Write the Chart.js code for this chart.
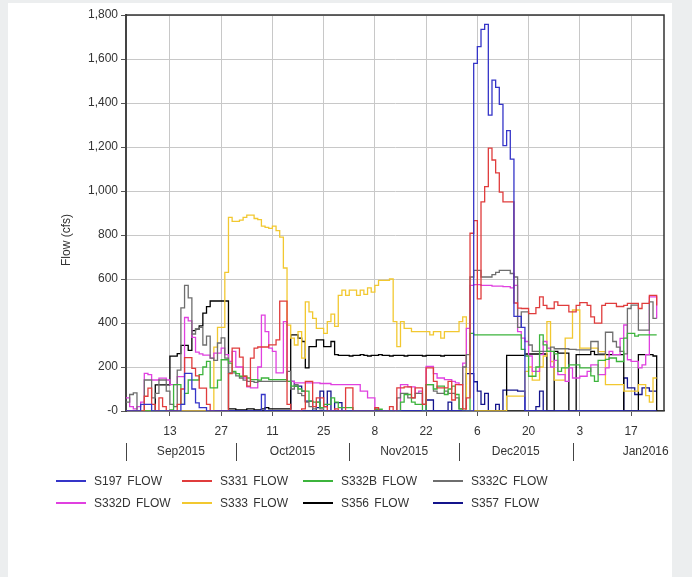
<!DOCTYPE html>
<html>
<head>
<meta charset="utf-8">
<script src="https://cdn.jsdelivr.net/npm/chart.js@4.4.0/dist/chart.umd.min.js"></script>
<style>
    html, body { margin: 0; padding: 0; }
    body { width: 692px; height: 577px; background: #eceeef; position: relative; overflow: hidden;
           font-family: "Liberation Sans", Arial, sans-serif; }
    #panel { position: absolute; left: 8px; top: 3px; width: 664px; height: 574px; background: #ffffff; }
    #wrap { position: absolute; left: 0; top: 0; width: 692px; height: 577px; }
    #legend { position: absolute; left: 56px; top: 470px; display: grid;
              grid-template-columns: 126px 121px 130px 130px; grid-auto-rows: 22px; }
    .item { display: flex; align-items: center; font-size: 12px; color: #333; white-space: nowrap; word-spacing: 2px; }
    .swatch { display: inline-block; width: 30px; height: 2px; margin-right: 8px; }
</style>
</head>
<body>
<div id="panel"></div>
<div id="wrap"><canvas id="flow-chart"></canvas></div>
<div id="legend"></div>
<script>
// Daily values, day 0 = 1 Sep 2015
const s197 = [0,0,0,0,30,30,30,0,0,0,
    0,0,0,0,0,30,171,171,100,37,
    15,15,0,0,0,0,0,0,0,0,
    0,0,0,0,0,0,0,75,0,0,
    0,0,0,0,0,0,0,0,0,0,
    0,0,0,0,0,0,0,0,0,0,
    0,0,0,0,0,0,0,0,0,0,
    0,0,0,0,0,0,0,0,0,0,
    0,0,0,0,0,0,0,0,0,0,
    0,0,0,0,0,1580,1656,1735,1757,1345,
    1504,1471,1394,1206,1274,1145,430,430,380,0,
    0,0,0,0,0,0,0,0,0,0,
    0,0,0,0,0,0,0,0,0,0,
    0,0,0,0,0,0,0,0,0,0,
    0,0,0,0,0,0];
const s331 = [0,0,0,0,0,67,104,30,0,60,
    20,0,0,0,30,100,243,243,194,160,
    104,104,30,0,0,0,0,0,170,286,
    286,245,158,113,240,286,291,291,291,301,
    301,323,499,499,30,0,0,0,10,135,
    135,20,60,60,20,0,0,10,0,0,
    105,105,0,0,0,0,0,0,15,0,
    0,0,20,0,105,105,110,110,60,105,
    105,30,196,196,135,105,105,105,135,50,
    120,120,10,60,808,865,510,951,1020,1195,
    1141,1082,995,951,951,951,491,468,466,466,
    443,443,470,519,480,466,466,496,480,480,
    480,451,451,480,493,493,480,428,399,399,
    480,489,489,489,475,475,480,489,489,489,
    466,489,489,526,526,480];
const s332b = [0,0,0,0,0,0,0,0,0,0,
    0,0,5,120,120,30,80,141,141,141,
    165,200,226,105,105,140,233,233,218,180,
    170,158,158,150,143,143,140,150,150,143,
    143,143,143,143,135,113,113,100,90,90,
    45,40,40,15,30,30,60,40,15,15,
    15,15,0,0,0,0,0,0,8,8,
    0,0,0,0,0,40,75,75,40,30,
    30,0,120,120,100,113,113,75,100,113,
    75,10,0,0,353,346,346,346,346,346,
    346,346,346,346,346,346,346,346,280,250,
    158,158,200,346,301,271,271,260,180,196,
    196,210,210,210,196,196,196,160,135,230,
    230,235,241,241,225,225,331,353,353,340,
    346,346,346,346,346,346];
const s332c = [40,75,82,0,0,141,141,60,80,141,
    141,90,30,20,186,469,571,514,350,372,
    380,300,340,240,230,309,332,240,173,173,
    160,150,140,135,135,130,135,135,135,135,
    135,135,135,135,180,100,120,80,70,40,
    20,10,40,10,0,0,0,0,0,0,
    0,0,0,0,0,0,0,0,0,0,
    0,0,0,0,60,80,80,60,60,80,
    80,30,120,120,90,80,80,90,80,80,
    60,10,200,256,609,639,639,609,609,609,
    620,630,639,639,639,625,609,380,451,451,
    300,271,271,271,271,271,290,283,283,283,
    283,280,280,278,278,278,278,316,316,260,
    260,358,358,316,290,271,260,466,481,481,
    368,368,368,496,421,421];
const s332d = [60,20,10,20,40,171,165,141,141,149,
    149,141,120,120,156,156,425,410,335,268,
    260,254,254,240,263,263,286,256,226,271,
    200,200,150,110,105,105,200,436,361,286,
    271,173,173,406,135,135,128,128,128,128,
    128,128,128,125,125,125,120,120,120,120,
    120,120,120,120,90,90,60,60,10,0,
    0,0,0,0,0,120,120,110,110,80,
    90,30,203,203,170,150,150,143,143,135,
    128,120,218,376,571,574,574,571,571,571,
    568,568,568,565,565,560,571,361,331,316,
    250,180,180,256,316,286,200,230,165,165,
    135,196,150,150,158,158,180,210,210,165,
    165,196,271,256,256,330,391,233,226,226,
    196,210,256,519,519,420];
const s333 = [0,0,0,0,0,0,0,0,0,0,
    0,0,0,0,0,0,0,0,0,0,
    0,0,0,0,290,380,380,630,880,862,
    862,868,880,890,890,875,870,840,835,830,
    840,820,790,650,390,331,300,361,240,496,
    451,421,376,376,353,406,440,385,526,549,
    526,549,549,526,549,530,560,540,571,594,
    594,594,600,406,293,406,376,376,361,361,
    361,361,361,346,361,361,331,361,361,361,
    361,406,428,0,0,0,0,0,0,0,
    0,0,0,0,68,68,68,68,68,180,
    200,140,140,200,250,406,225,140,140,140,
    331,331,459,459,286,286,286,286,286,270,
    270,120,120,120,120,120,90,90,90,90,
    120,120,70,40,150,150];
const s356 = [0,0,0,0,0,0,0,0,119,119,
    119,119,249,249,261,298,298,276,365,372,
    387,445,474,500,500,500,500,500,10,10,
    5,5,5,10,10,5,5,10,15,10,
    10,10,10,10,10,346,346,331,316,196,
    293,293,323,323,293,293,316,256,253,253,
    253,250,253,253,256,253,250,253,253,256,
    253,253,250,253,253,253,250,253,253,253,
    253,250,253,253,253,253,250,253,253,253,
    253,253,253,0,0,0,0,0,0,0,
    0,0,0,0,253,253,253,253,253,259,
    259,259,259,259,259,0,0,271,263,263,
    263,0,0,256,256,256,256,271,256,256,
    256,256,256,256,256,256,0,0,0,0,
    256,256,256,256,250,0];
const s357 = [0,0,0,0,0,0,0,0,0,0,
    0,0,0,0,0,0,0,0,0,0,
    0,0,0,0,0,0,0,0,0,0,
    0,0,0,0,0,0,0,0,0,0,
    0,0,0,0,0,135,113,113,90,45,
    45,0,15,90,20,90,0,38,38,0,
    0,0,0,0,0,0,0,0,0,0,
    0,0,0,0,0,0,0,0,0,0,
    0,0,50,50,0,0,0,0,40,0,
    0,0,0,170,170,133,90,30,80,0,
    0,30,0,95,95,95,95,90,90,0,
    0,0,20,90,0,0,0,0,0,0,
    0,0,0,0,0,0,0,0,0,0,
    0,0,0,0,0,0,150,105,105,75,
    75,105,105,90,90,90];

const seriesNames = ['S197 FLOW', 'S331 FLOW', 'S332B FLOW', 'S332C FLOW',
                     'S332D FLOW', 'S333 FLOW', 'S356 FLOW', 'S357 FLOW'];
const seriesColors = ['#3535c8', '#e03c3c', '#3cb43c', '#6e6e6e',
                      '#e040e0', '#f2c830', '#000000', '#14148c'];
const seriesValues = [s197, s331, s332b, s332c, s332d, s333, s356, s357];

// x axis: day numbers
const tickDays = [12, 26, 40, 54, 68, 82, 96, 110, 124, 138];
const tickLabels = ['13', '27', '11', '25', '8', '22', '6', '20', '3', '17'];
const monthStarts = [0, 30, 61, 91, 122];
const monthLabels = ['Sep2015', 'Oct2015', 'Nov2015', 'Dec2015', 'Jan2016'];
const monthLabelDays = [15, 45.5, 76, 106.5, 142];
const yTickLabels = ['-0', '200', '400', '600', '800', '1,000', '1,200', '1,400', '1,600', '1,800'];

const textColor = '#333333';
const fontFamily = '"Liberation Sans", Arial, sans-serif';

// draws the month row, plot frame and y title
const extrasPlugin = {
    id: 'extras',
    afterDraw(chart) {
        const ctx = chart.ctx;
        const area = chart.chartArea;
        const xScale = chart.scales.x;
        ctx.save();
        // frame top/right
        ctx.strokeStyle = '#333333';
        ctx.lineWidth = 1.5;
        ctx.beginPath();
        ctx.moveTo(area.left, area.top);
        ctx.lineTo(area.right, area.top);
        ctx.lineTo(area.right, area.bottom);
        ctx.stroke();

        // month separators and labels
        ctx.strokeStyle = '#444444';
        ctx.lineWidth = 1;
        monthStarts.forEach((d) => {
            const x = Math.round(xScale.getPixelForValue(d)) + 0.5;
            ctx.beginPath();
            ctx.moveTo(x, area.bottom + 32);
            ctx.lineTo(x, area.bottom + 50);
            ctx.stroke();
        });
        ctx.fillStyle = textColor;
        ctx.font = '12px ' + fontFamily;
        ctx.textAlign = 'center';
        ctx.textBaseline = 'middle';
        monthLabels.forEach((label, i) => {
            ctx.fillText(label, xScale.getPixelForValue(monthLabelDays[i]), area.bottom + 41);
        });

        // y axis title
        ctx.translate(67, (area.top + area.bottom) / 2 + 27);
        ctx.rotate(-Math.PI / 2);
        ctx.fillText('Flow (cfs)', 0, 0);
        ctx.restore();
    }
};

const flowChart = new Chart(document.getElementById('flow-chart'), {
    type: 'line',
    data: {
        datasets: seriesNames.map((name, i) => ({
            label: name,
            data: seriesValues[i].map((v, d) => ({ x: d, y: v })),
            borderColor: seriesColors[i],
            backgroundColor: seriesColors[i],
            borderWidth: 1.3,
            stepped: true,
            pointRadius: 0,
            fill: false
        }))
    },
    options: {
        responsive: true,
        maintainAspectRatio: false,
        animation: false,
        layout: { padding: { top: 15, right: 28, bottom: 116, left: 0 } },
        plugins: {
            legend: { display: false },
            tooltip: { enabled: false }
        },
        scales: {
            x: {
                type: 'linear',
                min: 0,
                max: 147,
                afterBuildTicks: (scale) => { scale.ticks = tickDays.map(v => ({ value: v })); },
                afterFit: (scale) => { scale.height = 50; },
                ticks: {
                    autoSkip: false,
                    maxRotation: 0,
                    padding: 8,
                    color: textColor,
                    font: { family: fontFamily, size: 12 },
                    callback: (value) => tickLabels[tickDays.indexOf(value)]
                },
                grid: { color: '#c8c8c8', tickColor: '#555555', tickLength: 5 },
                border: { color: '#333333', width: 1.5 }
            },
            y: {
                min: 0,
                max: 1800,
                afterBuildTicks: (scale) => { scale.ticks = yTickLabels.map((t, i) => ({ value: i * 200 })); },
                afterFit: (scale) => { scale.width = 126; },
                ticks: {
                    padding: 3,
                    color: textColor,
                    font: { family: fontFamily, size: 12 },
                    callback: (value) => yTickLabels[Math.round(value / 200)]
                },
                grid: { color: '#c8c8c8', tickColor: '#555555', tickLength: 5 },
                border: { color: '#444444', width: 2 }
            }
        }
    },
    plugins: [extrasPlugin]
});

// Legend, 4 per row
const legendElement = document.getElementById('legend');
flowChart.data.datasets.forEach((ds) => {
    const item = document.createElement('div');
    item.className = 'item';
    const swatch = document.createElement('span');
    swatch.className = 'swatch';
    swatch.style.background = ds.borderColor;
    const text = document.createElement('span');
    text.textContent = ds.label;
    item.appendChild(swatch);
    item.appendChild(text);
    legendElement.appendChild(item);
});
</script>
</body>
</html>
